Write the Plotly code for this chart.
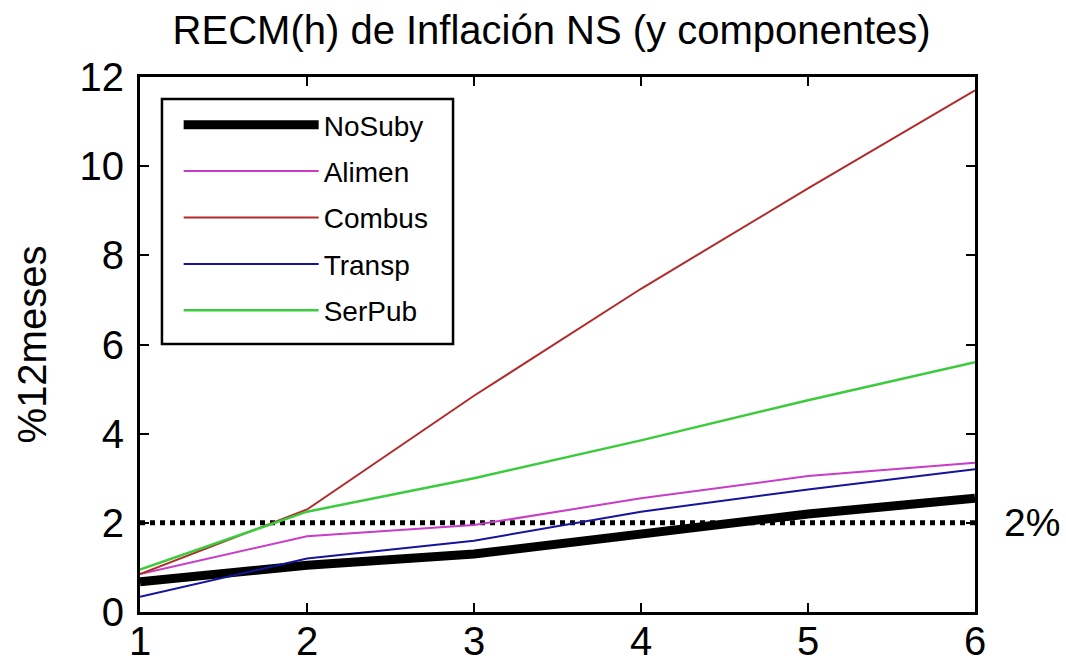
import plotly.graph_objects as go

horizonte = [1, 2, 3, 4, 5, 6]
nosuby = [0.68, 1.05, 1.3, 1.75, 2.2, 2.55]
alimen = [0.85, 1.7, 1.95, 2.55, 3.05, 3.35]
combus = [0.85, 2.3, 4.85, 7.25, 9.5, 11.7]
transp = [0.34, 1.2, 1.6, 2.25, 2.75, 3.2]
serpub = [0.95, 2.25, 3.0, 3.85, 4.75, 5.6]
meta = [2, 2]
meta_x = [1, 6]

series = [
    ("NoSuby", nosuby, "#000000", 9),
    ("Alimen", alimen, "#C83CC8", 2),
    ("Combus", combus, "#B22A2A", 2),
    ("Transp", transp, "#14149C", 2),
    ("SerPub", serpub, "#3CCB3C", 2.5),
]

fig = go.Figure()
fig.add_trace(go.Scatter(x=meta_x, y=meta, mode="lines", showlegend=False,
                         line=dict(color="black", width=5, dash="dot")))
for i, (name, vals, col, w) in enumerate(series):
    fig.add_trace(go.Scatter(x=horizonte, y=vals, mode="lines", name=name,
                             legendgroup=name, legendrank=i,
                             line=dict(color=col, width=w)))

font = "Liberation Sans, Arial, sans-serif"
fig.update_layout(
    width=1066, height=668,
    margin=dict(l=140, r=91, t=77, b=56, autoexpand=False),
    paper_bgcolor="white", plot_bgcolor="white",
    font=dict(family=font, color="black"),
    title=dict(text="RECM(h) de Inflación NS (y componentes)", xref="paper", x=0.493,
               xanchor="center", yref="container", y=0.955, yanchor="middle",
               font=dict(size=40)),
    showlegend=True,
    legend=dict(x=0.0463, y=0.957, xanchor="left", yanchor="top",
                borderwidth=0, bgcolor="rgba(0,0,0,0)",
                font=dict(size=28), itemwidth=135, tracegroupgap=7,
                traceorder="grouped"),
    shapes=[dict(type="rect", xref="paper", yref="paper", x0=0.0263, x1=0.3749,
                 y0=0.501, y1=0.959, line=dict(color="black", width=2.5),
                 fillcolor="white", layer="below")],
    xaxis=dict(range=[1, 6], tickvals=horizonte, showgrid=False, zeroline=False,
               showline=True, linecolor="black", linewidth=3, mirror="ticks",
               ticks="inside", ticklen=9, tickwidth=2, tickcolor="black",
               tickfont=dict(size=40), automargin=False, ticklabelstandoff=-8),
    yaxis=dict(range=[0, 12], tickvals=[0, 2, 4, 6, 8, 10, 12], showgrid=False,
               zeroline=False, showline=True, linecolor="black", linewidth=3,
               mirror="ticks", ticks="inside", ticklen=9, tickwidth=2,
               tickcolor="black", tickfont=dict(size=40), ticklabelstandoff=5,
               automargin=False,
               title=dict(text="%12meses", font=dict(size=40), standoff=21)),
    annotations=[dict(x=1.032, y=2, xref="paper", yref="y", text="2%",
                      showarrow=False, xanchor="left", yanchor="middle",
                      font=dict(size=39))],
)

fig.write_html("out.html")
